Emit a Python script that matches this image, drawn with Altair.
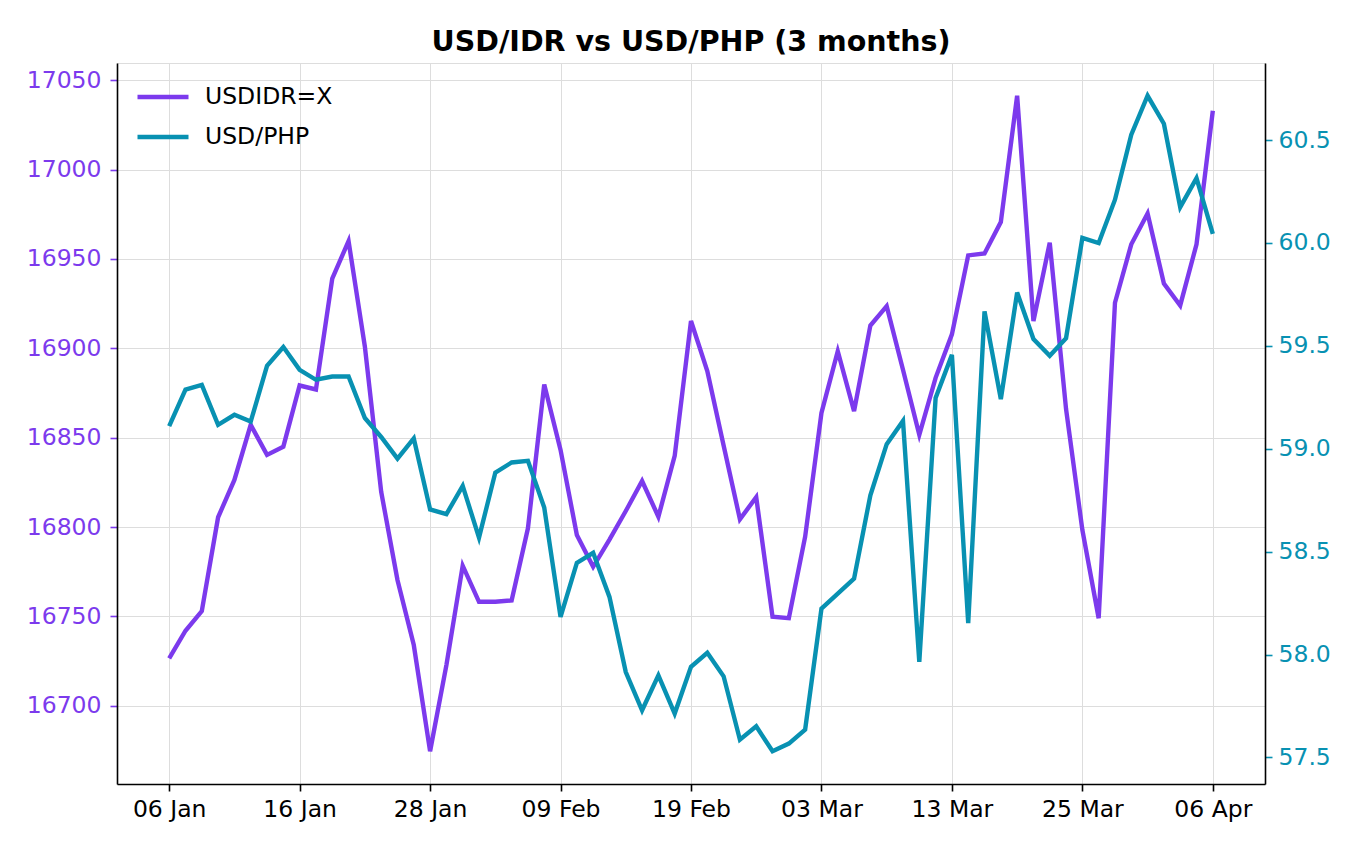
import altair as alt
import pandas as pd

# Business days covered by the two series
dates = pd.bdate_range("2026-01-06", periods=65).strftime("%d %b").tolist()
tick_positions = [0, 8, 16, 24, 32, 40, 48, 56, 64]
tick_labels = ["06 Jan", "16 Jan", "28 Jan", "09 Feb", "19 Feb",
               "03 Mar", "13 Mar", "25 Mar", "06 Apr"]

usd_idr = [
    16726.5, 16742.0, 16753.0, 16805.5, 16826.4, 16857.2, 16840.4, 16845.0,
    16879.2, 16877.0, 16939.0, 16960.0, 16901.0, 16819.8, 16770.4, 16734.0,
    16674.6, 16722.8, 16778.4, 16758.2, 16758.2, 16759.0, 16799.3, 16879.8,
    16843.2, 16795.6, 16777.8, 16793.0, 16809.0, 16825.8, 16805.8, 16839.8,
    16915.3, 16887.3, 16845.6, 16804.4, 16816.7, 16749.8, 16749.0, 16794.6,
    16863.9, 16898.4, 16864.9, 16912.8, 16923.6, 16888.0, 16851.6, 16883.5,
    16907.8, 16952.0, 16953.1, 16970.7, 17041.3, 16915.3, 16959.1, 16866.0,
    16798.4, 16749.0, 16925.5, 16958.2, 16975.4, 16936.3, 16924.0, 16958.2,
    17032.9,
]

usd_php = [
    59.110, 59.287, 59.310, 59.116, 59.165, 59.132, 59.403, 59.494,
    59.383, 59.335, 59.351, 59.351, 59.149, 59.057, 58.952, 59.050,
    58.705, 58.682, 58.819, 58.568, 58.884, 58.933, 58.941, 58.714,
    58.183, 58.445, 58.494, 58.280, 57.915, 57.729, 57.899, 57.713,
    57.940, 58.008, 57.894, 57.586, 57.651, 57.530, 57.567, 57.635,
    58.223, 58.296, 58.369, 58.774, 59.022, 59.135, 57.964, 59.246,
    59.456, 58.153, 59.667, 59.241, 59.759, 59.533, 59.452, 59.537,
    60.024, 59.999, 60.210, 60.526, 60.715, 60.579, 60.174, 60.315,
    60.044,
]

series_names = ["USDIDR=X", "USD/PHP"]
series_colors = ["#7c3aed", "#0891b2"]

idr_ticks = [16700, 16750, 16800, 16850, 16900, 16950, 17000, 17050]
php_ticks = [57.5, 58.0, 58.5, 59.0, 59.5, 60.0, 60.5]

FONT = "DejaVu Sans"
LABEL_SIZE = 23.5
LINE_W = 4.4


def padded(values, frac=0.05):
    lo, hi = min(values), max(values)
    pad = (hi - lo) * frac
    return [lo - pad, hi + pad]


idx = list(range(len(dates)))
idr_df = pd.DataFrame({"i": idx, "date": dates, "idr": usd_idr, "series": series_names[0]})
php_df = pd.DataFrame({"i": idx, "date": dates, "php": usd_php, "series": series_names[1]})

label_lookup = "[" + ",".join(f"'{t}'" for t in tick_labels) + "]"

x_enc = alt.X(
    "i:Q",
    scale=alt.Scale(domain=padded(idx), nice=False, zero=False),
    axis=alt.Axis(
        values=tick_positions, labelExpr=f"{label_lookup}[datum.value / 8]",
        title=None, grid=True,
        labelFontSize=LABEL_SIZE, labelFont=FONT, labelColor="black",
        tickColor="black", tickSize=7, tickWidth=1.6, labelPadding=6,
        domainColor="black", domainWidth=1.6, labelFlush=False,
        labelOverlap=False,
    ),
)

color_enc = alt.Color(
    "series:N",
    scale=alt.Scale(domain=series_names, range=series_colors),
    legend=alt.Legend(
        title=None, orient="none", legendX=18, legendY=6,
        symbolType="stroke", symbolStrokeWidth=LINE_W, symbolSize=2601,
        labelFontSize=LABEL_SIZE, labelFont=FONT, labelColor="black",
        labelOffset=14, rowPadding=-6,
    ),
)

idr_line = alt.Chart(idr_df).mark_line(strokeWidth=LINE_W, clip=True).encode(
    x=x_enc,
    y=alt.Y(
        "idr:Q",
        scale=alt.Scale(domain=padded(usd_idr), nice=False, zero=False),
        axis=alt.Axis(
            orient="left", values=idr_ticks, format="d", title=None, grid=True,
            labelColor=series_colors[0], tickColor=series_colors[0],
            labelFontSize=LABEL_SIZE, labelFont=FONT, tickSize=7, tickWidth=1.6,
            labelPadding=9, domainColor="black", domainWidth=1.6,
        ),
    ),
    color=color_enc,
)

php_line = alt.Chart(php_df).mark_line(strokeWidth=LINE_W, clip=True).encode(
    x=x_enc,
    y=alt.Y(
        "php:Q",
        scale=alt.Scale(domain=padded(usd_php), nice=False, zero=False),
        axis=alt.Axis(
            orient="right", values=php_ticks, format=".1f", title=None,
            grid=False,
            labelColor=series_colors[1], tickColor=series_colors[1],
            labelFontSize=LABEL_SIZE, labelFont=FONT, tickSize=7, tickWidth=1.6,
            labelPadding=6, domainColor="black", domainWidth=1.6,
        ),
    ),
    color=color_enc,
)

chart = (
    alt.layer(idr_line, php_line)
    .resolve_scale(y="independent")
    .properties(
        width=1148,
        height=721,
        autosize=alt.AutoSizeParams(type="none"),
        padding={"left": 117, "top": 63, "right": 95, "bottom": 66},
        title=alt.TitleParams(
            "USD/IDR vs USD/PHP (3 months)", font=FONT, fontSize=28.5,
            fontWeight="bold", color="black", anchor="middle", offset=7,
        ),
    )
    .configure_view(stroke="black", strokeWidth=1.6)
    .configure_axis(gridColor="#e3e3e3", gridWidth=1.5)
    .configure(background="white")
)

chart.save("out.html", embed_options={"renderer": "svg", "actions": False})
